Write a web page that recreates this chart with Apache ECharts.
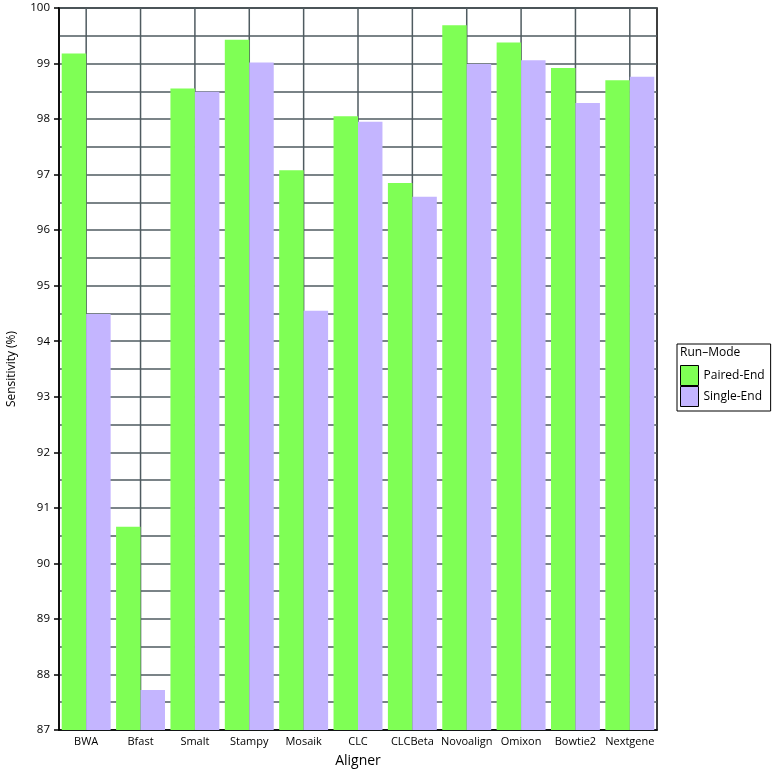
<!DOCTYPE html>
<html>
<head>
<meta charset="utf-8">
<script src="https://cdn.jsdelivr.net/npm/echarts@6/dist/echarts.min.js"></script>
<style>
html,body{margin:0;padding:0;background:#fff;}
#main{width:776px;height:769px;}
</style>
</head>
<body>
<div id="main"></div>
<script>
const categories = ['BWA','Bfast','Smalt','Stampy','Mosaik','CLC','CLCBeta','Novoalign','Omixon','Bowtie2','Nextgene'];
const pairedEnd = [99.18, 90.66, 98.55, 99.43, 97.08, 98.05, 96.85, 99.69, 99.38, 98.92, 98.70];
const singleEnd = [94.49, 87.72, 98.49, 99.02, 94.55, 97.95, 96.60, 98.99, 99.06, 98.29, 98.76];
const seriesNames = ['Paired-End', 'Single-End'];
const legendTitle = 'Run\u2013Mode';
const xName = 'Aligner';
const yName = 'Sensitivity (%)';
const yMin = 87, yMax = 100;

const FONT = 'Open Sans';
const GRID_COLOR = '#4f5b60';
const GREEN = '#7fff55';
const PURPLE = '#c4b5ff';
const chart = echarts.init(document.getElementById('main'), null, {renderer: 'canvas'});
chart.setOption({
  animation: false,
  textStyle: {fontFamily: FONT},
  grid: {left: 59, right: 119, top: 8, bottom: 39, containLabel: false, outerBoundsMode: 'none',
         show: true, borderColor: '#000', borderWidth: 1.5, backgroundColor: 'transparent'},
  legend: {
    orient: 'vertical', left: 677, top: 344,
    padding: [21, 6, 4, 3],
    icon: 'rect',
    itemWidth: 18, itemHeight: 20, itemGap: 0,
    borderColor: '#000', borderWidth: 1,
    itemStyle: {borderColor: '#000', borderWidth: 1},
    textStyle: {fontFamily: FONT, fontSize: 12, color: '#000'},
    data: seriesNames
  },
  graphic: [{
    type: 'text', left: 680, top: 347,
    style: {text: legendTitle, fontFamily: FONT, fontSize: 12, fill: '#000'}
  }],
  xAxis: {
    type: 'category', data: categories,
    name: xName, nameLocation: 'middle', nameGap: 24,
    nameTextStyle: {fontFamily: FONT, fontSize: 14, color: '#000'},
    axisLine: {lineStyle: {color: '#000', width: 1.5}},
    axisTick: {alignWithLabel: true, length: 4, lineStyle: {color: '#000', width: 1.5}},
    axisLabel: {color: '#000', fontSize: 11, margin: 6, interval: 0},
    splitLine: {show: false}
  },
  yAxis: {
    type: 'value', min: yMin, max: yMax, interval: 1,
    name: yName, nameLocation: 'middle', nameGap: 41,
    nameTextStyle: {fontFamily: FONT, fontSize: 12, color: '#000'},
    axisLine: {show: true, lineStyle: {color: '#000', width: 1.5}},
    axisTick: {show: true, length: 5, lineStyle: {color: '#000', width: 1.5}},
    axisLabel: {color: '#000', fontSize: 11.5, margin: 9},
    splitLine: {show: true, lineStyle: {color: GRID_COLOR, width: 1.5}},
    minorTick: {show: false, splitNumber: 2},
    minorSplitLine: {show: true, lineStyle: {color: GRID_COLOR, width: 1.5}}
  },
  series: [
    {
      type: 'custom', z: 1, silent: true,
      data: categories.map((c, i) => [i]),
      renderItem: function (params, api) {
        const i = api.value(0);
        const p1 = api.coord([i, yMax]);
        const p2 = api.coord([i, yMin]);
        return {type: 'line', shape: {x1: p1[0], y1: p1[1], x2: p2[0], y2: p2[1]},
                style: {stroke: GRID_COLOR, lineWidth: 1.5}};
      }
    },
    {name: seriesNames[0], type: 'bar', data: pairedEnd, z: 3, barGap: '0%', barCategoryGap: '10%',
     itemStyle: {color: GREEN, borderWidth: 0}},
    {name: seriesNames[1], type: 'bar', data: singleEnd, z: 3, barGap: '0%', barCategoryGap: '10%',
     itemStyle: {color: PURPLE, borderWidth: 0}}
  ]
});
</script>
</body>
</html>
